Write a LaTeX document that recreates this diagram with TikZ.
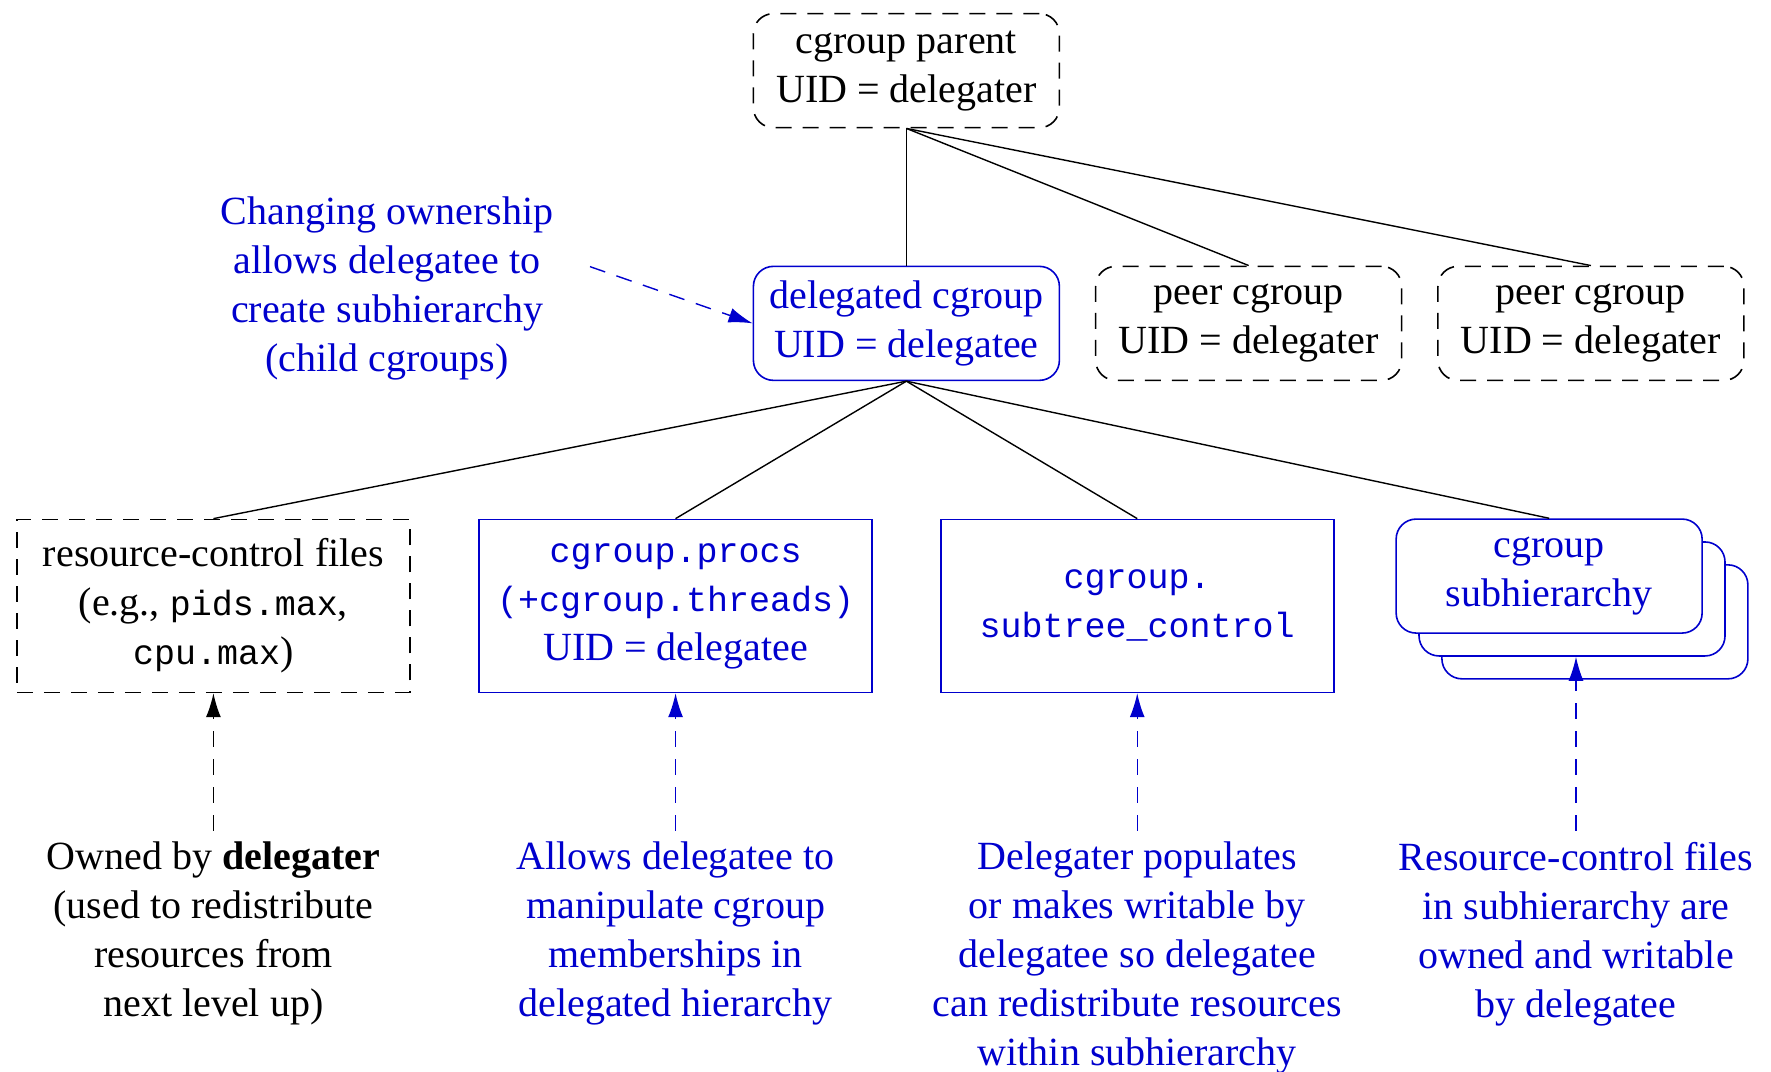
\documentclass[tikz,border=0pt]{standalone}
\usepackage{fontspec}
\setmainfont{Liberation Serif}
\setmonofont{Liberation Mono}
\usetikzlibrary{arrows.meta}
\definecolor{dblue}{RGB}{0,0,205}
\newcommand{\mono}[1]{{\fontsize{35}{49}\selectfont\ttfamily #1}}
\begin{document}
\begin{tikzpicture}[x=0.995pt,y=-0.995pt,
  font=\fontsize{40}{49}\selectfont,
  box/.style={minimum width=306pt, minimum height=114pt, inner sep=0pt, align=center, line width=1.6pt},
  wide/.style={minimum width=393pt, minimum height=173pt, inner sep=0pt, align=center, line width=1.6pt},
  dashbox/.style={draw=black, dash pattern=on 16pt off 11pt},
  bluebox/.style={draw=dblue, text=dblue},
  rbox/.style={rounded corners=20pt},
  link/.style={line width=1.4pt},
  uparrow/.style={line width=1.4pt, dash pattern=on 16pt off 12pt, -{Latex[length=24pt,width=15pt]}},
  note/.style={align=center, inner sep=0pt, inner ysep=11pt}]
\useasboundingbox (0,0) rectangle (1780,1077.4);

% top level
\node[box,dashbox,rbox] (parent) at (911,71) {cgroup parent\\UID = delegater};
\node[box,bluebox,rbox] (deleg) at (911,325) {delegated cgroup\\UID = delegatee};
\node[box,dashbox,rbox] (peer1) at (1255,325) {peer cgroup\\UID = delegater};
\node[box,dashbox,rbox] (peer2) at (1599,325) {peer cgroup\\UID = delegater};

\draw[link] (parent.south) -- (deleg.north);
\draw[link] (parent.south) -- (peer1.north);
\draw[link] (parent.south) -- (peer2.north);

% annotation
\node[note,text=dblue,anchor=north] (ann) at (389,186) {Changing ownership\\allows delegatee to\\create subhierarchy\\(child cgroups)};
\coordinate (annarr) at (593,268);
\draw[link,dblue,dash pattern=on 16pt off 12pt,-{Latex[length=24pt,width=15pt]}] (annarr) -- (deleg.west);

% bottom row
\node[wide,dashbox] (rc) at (214.5,609) {resource-control files\\(e.g., \mono{pids.max},\\\mono{cpu.max})};
\node[wide,bluebox] (procs) at (679,609) {\mono{cgroup.procs}\\\mono{(+cgroup.threads)}\\UID = delegatee};
\node[wide,bluebox] (subtree) at (1143,609) {\mono{cgroup.}\\\mono{subtree\_control}};
\node[box,bluebox,rbox,fill=white] (sub3) at (1603,625) {};
\node[box,bluebox,rbox,fill=white] (sub2) at (1580,602) {};
\node[box,bluebox,rbox,fill=white] (sub1) at (1557,579) {cgroup\\subhierarchy};

\draw[link] (deleg.south) -- (rc.north);
\draw[link] (deleg.south) -- (procs.north);
\draw[link] (deleg.south) -- (subtree.north);
\draw[link] (deleg.south) -- (sub1.north);

% bottom notes
\node[note,anchor=north] (t1) at (214.5,835) {Owned by \textbf{delegater}\\(used to redistribute\\resources from\\next level up)};
\node[note,anchor=north,text=dblue] (t2) at (679,835) {Allows delegatee to\\manipulate cgroup\\memberships in\\delegated hierarchy};
\node[note,anchor=north,text=dblue] (t3) at (1143,835) {Delegater populates\\or makes writable by\\delegatee so delegatee\\can redistribute resources\\within subhierarchy};
\node[note,anchor=north,text=dblue] (t4) at (1584,835) {Resource-control files\\in subhierarchy are\\owned and writable\\by delegatee};

\draw[uparrow] (t1.north) -- (rc.south);
\draw[uparrow,dblue] (t2.north) -- (procs.south);
\draw[uparrow,dblue] (t3.north) -- (subtree.south);
\draw[uparrow,dblue] (t4.north) -- (t4.north |- sub2.south);
\end{tikzpicture}
\end{document}
